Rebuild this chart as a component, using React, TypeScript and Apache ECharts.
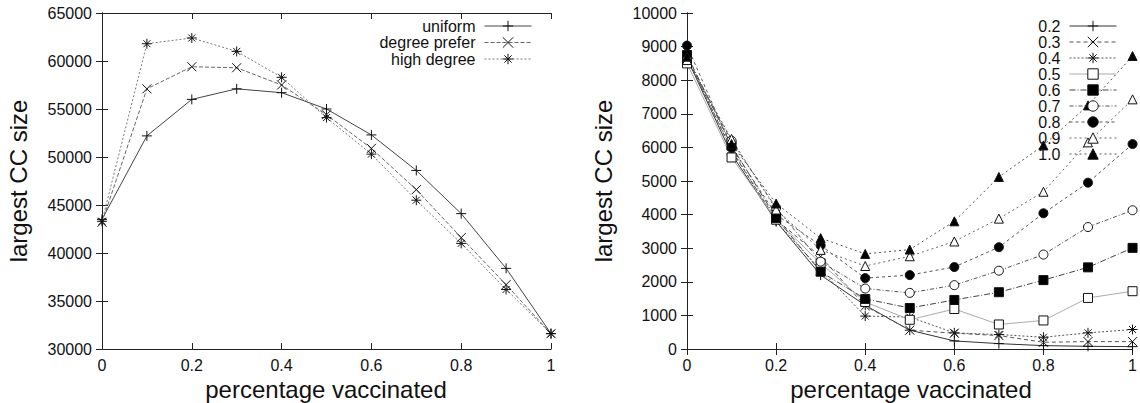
import React, { useEffect, useRef } from "react";
import * as echarts from "echarts";

const xs = [0, 0.1, 0.2, 0.3, 0.4, 0.5, 0.6, 0.7, 0.8, 0.9, 1];

// Left chart
const leftNames = ["uniform", "degree prefer", "high degree"];
const uniform = [43500, 52200, 56000, 57100, 56700, 55000, 52300, 48600, 44100, 38400, 31600];
const degreePrefer = [43200, 57100, 59400, 59300, 57500, 54400, 50900, 46600, 41600, 36700, 31600];
const highDegree = [43300, 61800, 62400, 61000, 58300, 54100, 50300, 45500, 41000, 36200, 31600];

// Right chart
const rightNames = ["0.2", "0.3", "0.4", "0.5", "0.6", "0.7", "0.8", "0.9", "1.0"];
const s02 = [8650, 5800, 3800, 2200, 1300, 560, 240, 160, 100, 80, 70];
const s03 = [8700, 5900, 3850, 2750, 1280, 560, 470, 400, 200, 220, 220];
const s04 = [8650, 5950, 3800, 2350, 980, 950, 480, 430, 350, 480, 580];
const s05 = [8500, 5700, 3850, 2550, 1400, 870, 1190, 730, 850, 1520, 1720];
const s06 = [8750, 6050, 3900, 2300, 1490, 1220, 1460, 1690, 2050, 2430, 3010];
const s07 = [8600, 6200, 4200, 2600, 1800, 1670, 1900, 2330, 2810, 3630, 4130];
const s08 = [9030, 6000, 4000, 3080, 2110, 2200, 2440, 3030, 4040, 4950, 6100];
const s09 = [8600, 6250, 4150, 2950, 2470, 2760, 3200, 3880, 4680, 6150, 7430];
const s10 = [8700, 6100, 4330, 3300, 2830, 2960, 3800, 5120, 6060, 7250, 8720];
const rightValues = [s02, s03, s04, s05, s06, s07, s08, s09, s10];

const FONT = "'Liberation Sans', Arial, sans-serif";
const PLUS = "path://M5,0L5,10M0,5L10,5";
const CROSS = "path://M0,0L10,10M10,0L0,10";
const STAR = "path://M5,0L5,10M0,5L10,5M1.5,1.5L8.5,8.5M8.5,1.5L1.5,8.5";

type Mk = { symbol: string; fill: string; size: number; stroke?: boolean };
const leftMarks: Mk[] = [
  { symbol: PLUS, fill: "none", size: 10, stroke: true },
  { symbol: CROSS, fill: "none", size: 9, stroke: true },
  { symbol: STAR, fill: "none", size: 10, stroke: true },
];
const leftLines = [
  { type: "solid" as any, color: "#444" },
  { type: [4, 2], color: "#666" },
  { type: [2, 2], color: "#777" },
];
const rightMarks: Mk[] = [
  { symbol: PLUS, fill: "none", size: 10, stroke: true },
  { symbol: CROSS, fill: "none", size: 9, stroke: true },
  { symbol: STAR, fill: "none", size: 10, stroke: true },
  { symbol: "rect", fill: "#fff", size: 9 },
  { symbol: "rect", fill: "#000", size: 9 },
  { symbol: "circle", fill: "#fff", size: 9 },
  { symbol: "circle", fill: "#000", size: 9 },
  { symbol: "triangle", fill: "#fff", size: 9 },
  { symbol: "triangle", fill: "#000", size: 9 },
];
const rightLines = [
  { type: "solid" as any, color: "#333" },
  { type: [4, 3], color: "#555" },
  { type: [2, 2], color: "#555" },
  { type: "solid" as any, color: "#aaa" },
  { type: [6, 2, 1, 2], color: "#444" },
  { type: [4, 2, 1, 2], color: "#555" },
  { type: [3, 3], color: "#555" },
  { type: [2, 3], color: "#666" },
  { type: [2, 3], color: "#555" },
];

function mkSeries(name: string, vals: number[], mk: Mk, ln: any, xi: number, yi: number) {
  return {
    name,
    type: "line",
    xAxisIndex: xi,
    yAxisIndex: yi,
    data: xs.map((x, i) => [x, vals[i]]),
    symbol: mk.symbol,
    symbolSize: mk.size,
    showAllSymbol: true,
    itemStyle: {
      color: mk.stroke ? "rgba(0,0,0,0)" : mk.fill,
      borderColor: "#111",
      borderWidth: 1,
    },
    lineStyle: { color: ln.color, width: 1, type: ln.type },
  };
}

function axesFor(gridIndex: number, min: number, max: number, interval: number) {
  const line = { show: true, lineStyle: { color: "#222", width: 1 } };
  const tick = { show: true, inside: true, length: 6, lineStyle: { color: "#222" } };
  const label = { fontSize: 16, color: "#111", fontFamily: FONT, formatter: (v: number) => String(v) };
  const x = [
    {
      type: "value", gridIndex, min: 0, max: 1, interval: 0.2, position: "bottom",
      axisLine: line, axisTick: tick, splitLine: { show: false },
      axisLabel: { ...label, margin: 8 },
    },
    {
      type: "value", gridIndex, min: 0, max: 1, interval: 0.2, position: "top",
      axisLine: line, axisTick: tick, splitLine: { show: false },
      axisLabel: { show: false },
    },
  ];
  const y = [
    {
      type: "value", gridIndex, min, max, interval, position: "left",
      axisLine: line, axisTick: tick, splitLine: { show: false },
      axisLabel: { ...label, margin: 10 },
    },
    {
      type: "value", gridIndex, min, max, interval, position: "right",
      axisLine: line, axisTick: tick, splitLine: { show: false },
      axisLabel: { show: false },
    },
  ];
  return { x, y };
}

export default function App() {
  const ref = useRef<HTMLDivElement>(null);
  useEffect(() => {
    document.body.style.margin = "0";
    const chart = echarts.init(ref.current!, null, { renderer: "svg" });
    const a0 = axesFor(0, 30000, 65000, 5000);
    const a1 = axesFor(1, 0, 10000, 1000);
    const leftVals = [uniform, degreePrefer, highDegree];
    const series: any[] = [];
    leftNames.forEach((n, i) => series.push(mkSeries(n, leftVals[i], leftMarks[i], leftLines[i], 0, 0)));
    rightNames.forEach((n, i) => series.push(mkSeries(n, rightValues[i], rightMarks[i], rightLines[i], 2, 2)));
    const legendCommon = {
      orient: "vertical",
      align: "right",
      itemWidth: 47,
      itemHeight: 13,
      textStyle: { fontSize: 16, fontFamily: FONT, color: "#111", lineHeight: 16, padding: [0, 4, 0, 0] },
      lineStyle: { width: 1 },
      itemStyle: { borderWidth: 1 },
      padding: 0,
    };
    const option: any = {
      animation: false,
      backgroundColor: "#fff",
      grid: [
        { left: 102, top: 13, width: 449, height: 336 },
        { left: 687, top: 13, width: 449, height: 336 },
      ],
      xAxis: [...a0.x, ...a1.x],
      yAxis: [...a0.y, ...a1.y],
      legend: [
        { ...legendCommon, data: leftNames, right: 1140 - 532, top: 18, itemGap: 0.5 },
        { ...legendCommon, data: rightNames, right: 1140 - 1117, top: 18, itemGap: 0 },
      ],
      series,
      graphic: [
        { type: "text", x: 18, y: 181, rotation: Math.PI / 2, style: { text: "largest CC size", fontSize: 24, fontFamily: FONT, fill: "#111", align: "center", verticalAlign: "middle" } },
        { type: "text", x: 603, y: 181, rotation: Math.PI / 2, style: { text: "largest CC size", fontSize: 24, fontFamily: FONT, fill: "#111", align: "center", verticalAlign: "middle" } },
        { type: "text", x: 326, y: 389, style: { text: "percentage vaccinated", fontSize: 24, fontFamily: FONT, fill: "#111", align: "center", verticalAlign: "middle" } },
        { type: "text", x: 911, y: 389, style: { text: "percentage vaccinated", fontSize: 24, fontFamily: FONT, fill: "#111", align: "center", verticalAlign: "middle" } },
      ],
    };
    chart.setOption(option);
    return () => chart.dispose();
  }, []);
  return <div ref={ref} style={{ width: 1140, height: 403 }} />;
}
